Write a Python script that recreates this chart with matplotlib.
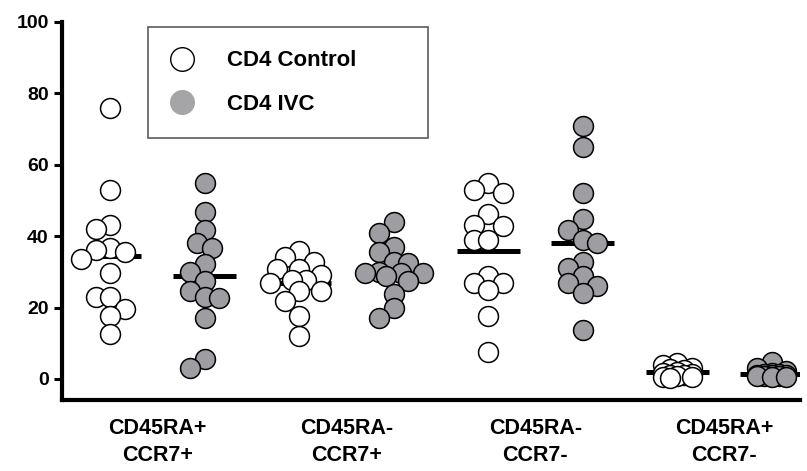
import numpy as np
import matplotlib
matplotlib.use('Agg')
import matplotlib.pyplot as plt
from matplotlib.lines import Line2D

plt.rcParams['font.family'] = ['Liberation Sans', 'DejaVu Sans']
plt.rcParams['font.weight'] = 'bold'

# values (percent of CD4 cells)
categories = ['CD45RA+\nCCR7+', 'CD45RA-\nCCR7+', 'CD45RA-\nCCR7-', 'CD45RA+\nCCR7-']
control = [
    [76.0, 53.0, 43.0, 42.0, 36.6, 36.0, 35.7, 33.5, 29.6, 23.0, 23.0, 19.7, 17.6, 12.6],
    [35.9, 34.1, 32.9, 30.7, 30.7, 29.0, 27.7, 27.7, 26.8, 24.7, 24.7, 21.9, 17.6, 12.0],
    [55.0, 52.9, 52.0, 46.1, 43.1, 42.9, 38.9, 38.9, 28.9, 27.0, 27.0, 24.9, 17.6, 7.6],
    [4.6, 3.8, 3.2, 2.8, 2.4, 2.0, 1.8, 1.5, 1.2, 1.0, 0.8, 0.6, 0.5, 0.3],
]
ivc = [
    [55.0, 46.9, 41.7, 38.0, 36.8, 32.2, 30.1, 27.5, 24.7, 22.9, 22.6, 17.0, 5.6, 3.0],
    [44.1, 41.0, 37.1, 35.7, 32.9, 32.6, 30.0, 29.6, 29.6, 29.6, 28.9, 27.3, 23.8, 19.8, 17.0],
    [70.9, 64.9, 52.0, 44.7, 41.7, 38.9, 38.2, 32.9, 31.0, 28.9, 26.8, 26.0, 24.0, 13.7],
    [4.8, 3.0, 2.2, 1.8, 1.5, 1.3, 1.2, 1.0, 1.0, 0.9, 0.8, 0.7, 0.6, 0.5],
]

GRAY = '#9e9ea2'

fig = plt.figure(figsize=(8.07, 4.71), dpi=100)
ax = fig.add_axes([62 / 807, 71 / 471, 738 / 807, 378 / 471])
ax.set_xlim(-0.508, 7.30)
ax.set_ylim(-5.9, 100)

# pixel scale, used only to spread overlapping points sideways
px_x = 738 / (7.30 + 0.508)
px_y = 378 / (100 + 5.9)
diam = 20.0
step = 7.25


def swarm(vals):
    placed = []
    offs = np.zeros(len(vals))
    order = np.argsort(vals)[::-1]
    # tight clusters near zero stay narrow, like the original
    kmax = 2 if (max(vals) - min(vals)) < 10 else 4
    cands = [k for k in [0, -1, 1, -2, 2, -3, 3, -4, 4] if abs(k) <= kmax]
    for i in order:
        yv = vals[i] * px_y
        best, best_d, fallback = None, -1, 0
        for k in cands:
            xv = k * step
            d = min([np.hypot(xv - px, yv - py) for px, py in placed] or [1e9])
            if d >= 0.7 * diam:
                best = k
                break
            if d > best_d:
                best_d = d
                fallback = k
        if best is None:
            best = fallback
        placed.append((best * step, yv))
        offs[i] = best * step / px_x
    return offs


for i in range(len(categories)):
    for j, (vals, fc) in enumerate([(control[i], 'white'), (ivc[i], GRAY)]):
        v = np.array(vals)
        xc = 2 * i + j
        ax.scatter(xc + swarm(v), v, s=205, facecolor=fc, edgecolor='black',
                   linewidth=1.1, zorder=3)
        ax.plot([xc - 0.333, xc + 0.333], [v.mean(), v.mean()], color='black',
                lw=3.6, solid_capstyle='butt', zorder=2)

for s in ['top', 'right']:
    ax.spines[s].set_visible(False)
ax.spines['left'].set_linewidth(3)
ax.spines['bottom'].set_linewidth(3)

ax.set_yticks([0, 20, 40, 60, 80, 100])
ax.tick_params(axis='y', length=6, width=2.2, pad=3.5, labelsize=14)
ax.set_xticks([0.5, 2.5, 4.5, 6.5])
ax.set_xticklabels(categories, fontsize=15.5, fontweight='bold', linespacing=1.4)
ax.tick_params(axis='x', length=0, pad=13)

handles = [
    Line2D([], [], marker='o', ls='none', markersize=17, markerfacecolor='white',
           markeredgecolor='black', markeredgewidth=1.0),
    Line2D([], [], marker='o', ls='none', markersize=17, markerfacecolor='#a5a5a8',
           markeredgecolor='#a5a5a8'),
]
leg = ax.legend(handles, ['CD4 Control', 'CD4 IVC'], loc='upper left',
                bbox_to_anchor=(86 / 738, 1 - 5 / 378 - 0.3, 280 / 738, 0.3), mode='expand',
                fancybox=False, edgecolor='#333333', borderpad=1.05, labelspacing=1.0,
                handlelength=1.0, handletextpad=1.5, borderaxespad=0,
                prop={'size': 16, 'weight': 'bold'})
leg.get_frame().set_linewidth(1.2)

fig.savefig('out.png', dpi=100)
